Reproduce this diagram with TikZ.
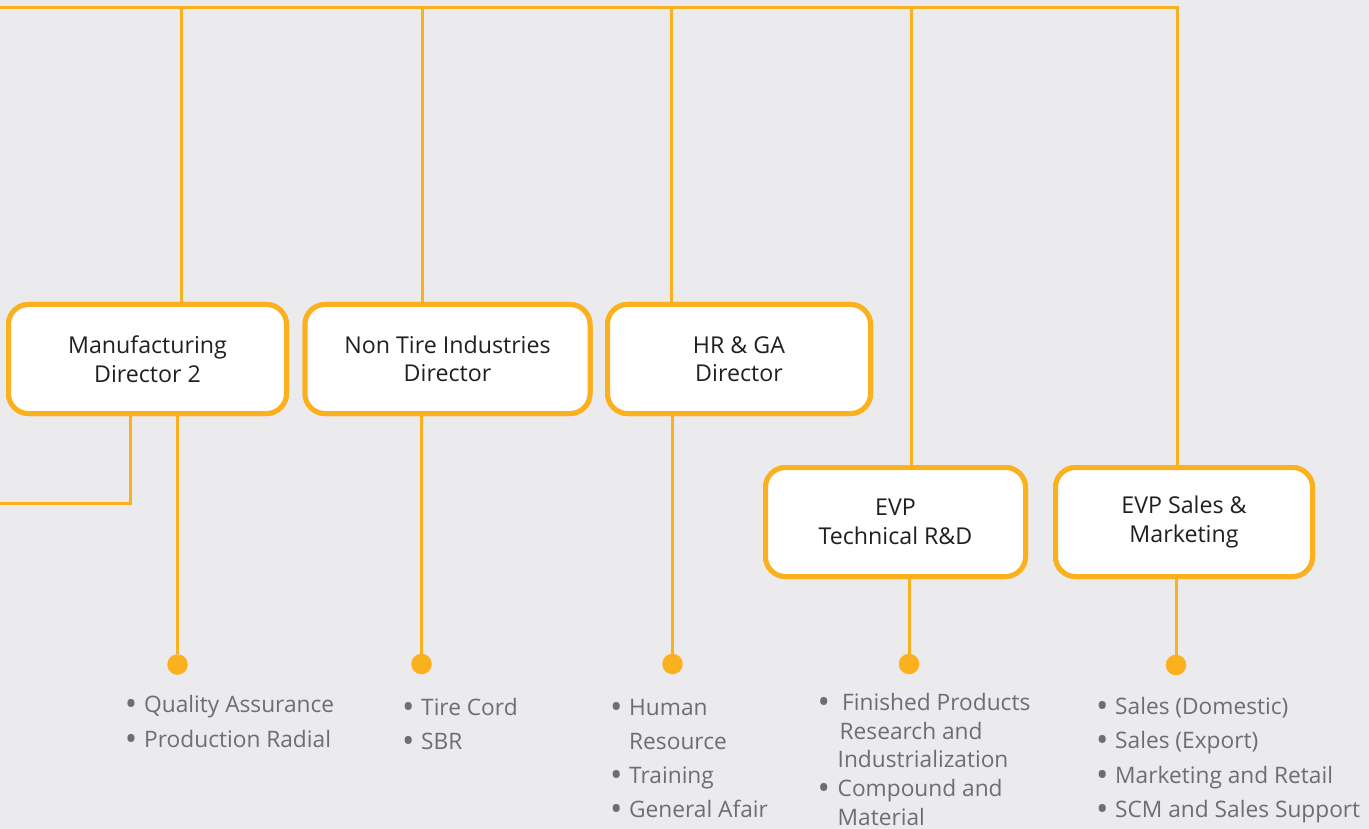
\documentclass[tikz,border=0pt]{standalone}
\usepackage{fontspec}
\setmainfont{Open Sans}
\definecolor{bg}{HTML}{EBEBED}
\definecolor{org}{HTML}{FBB01D}
\definecolor{dark}{HTML}{231F20}
\definecolor{gr}{HTML}{6D6E71}
\newcommand\bigbul{\makebox[0pt][c]{\raisebox{-3.2pt}{\fontsize{33}{33}\selectfont\textbullet}}}
\newcommand\bul{\makebox[13pt][l]{\bigbul}}
\newcommand\bulw{\makebox[14pt][l]{\bigbul}}
\begin{document}
\begin{tikzpicture}[x=1pt,y=-1pt,
  box/.style={draw=org, line width=5pt, fill=white, rounded corners=20pt, align=center, text=dark,
    font=\fontsize{23.2}{28.5}\selectfont, inner sep=0pt, minimum height=109pt},
  wire/.style={draw=org, line width=3pt},
  dot/.style={circle, fill=org, minimum size=20.5pt, inner sep=0pt},
  list/.style={anchor=base west, inner sep=0pt, text=gr, font=\fontsize{22.7}{34.5}\selectfont}]
\fill[bg] (0,0) rectangle (1369,829);
\useasboundingbox (0,0) rectangle (1369,829);

% boxes
\node[box, minimum width=278pt] (b1) at (147.5,359) {Manufacturing\\Director 2};
\node[box, minimum width=285pt] (b2) at (447.5,359) {Non Tire Industries\\Director};
\node[box, minimum width=263pt] (b3) at (739,359) {HR \& GA\\Director};
\node[box, minimum width=260pt] (b4) at (895.5,522) {EVP\\Technical R\&D};
\node[box, minimum width=257pt] (b5) at (1184,522) {EVP Sales \&\\Marketing};

% top bus
\coordinate (tl) at (0,8);
\coordinate (tr) at (1177,8);
\coordinate (t1) at (181,8);
\coordinate (t2) at (422,8);
\coordinate (t3) at (671,8);
\coordinate (t4) at (911,8);
\draw[wire] (tl) -- (tr) -- (tr |- b5.north);
\draw[wire] (t1) -- (t1 |- b1.north);
\draw[wire] (t2) -- (t2 |- b2.north);
\draw[wire] (t3) -- (t3 |- b3.north);
\draw[wire] (t4) -- (t4 |- b4.north);

% side branch of box 1
\coordinate (s1) at (130,0);
\coordinate (se) at (0,503);
\draw[wire] (s1 |- b1.south) |- (se);

% dots
\node[dot] (d1) at (177.5,664.5) {};
\node[dot] (d2) at (421.5,664) {};
\node[dot] (d3) at (672.5,664) {};
\node[dot] (d4) at (909,664) {};
\node[dot] (d5) at (1176,665) {};
\draw[wire] (d1 |- b1.south) -- (d1);
\draw[wire] (d2 |- b2.south) -- (d2);
\draw[wire] (d3 |- b3.south) -- (d3);
\draw[wire] (d4 |- b4.south) -- (d4);
\draw[wire] (d5 |- b5.south) -- (d5);
% redraw boxes over wire ends
\node[box, minimum width=278pt] at (b1) {Manufacturing\\Director 2};
\node[box, minimum width=285pt] at (b2) {Non Tire Industries\\Director};
\node[box, minimum width=263pt] at (b3) {HR \& GA\\Director};
\node[box, minimum width=260pt] at (b4) {EVP\\Technical R\&D};
\node[box, minimum width=257pt] at (b5) {EVP Sales \&\\Marketing};

% lists
\node[list] (L1) at (131,712.7) {\begin{tabular}[t]{@{}l@{}l@{}}
\bul & Quality Assurance\\
\bul & Production Radial\end{tabular}};
\node[list] (L2) at (408,715) {\begin{tabular}[t]{@{}l@{}l@{}}
\bul & Tire Cord\\
\bul & SBR\end{tabular}};
\node[list, font=\fontsize{22.7}{34}\selectfont] (L3) at (616,715) {\begin{tabular}[t]{@{}l@{}l@{}}
\bul & Human\\
 & Resource\\
\bul & Training\\
\bul & General Afair\end{tabular}};
\node[list, font=\fontsize{22.7}{28.6}\selectfont] (L4) at (823.5,710.7) {\begin{tabular}[t]{@{}l@{}l@{}}
\bulw & \hspace{4.5pt}Finished Products\\
 & \hspace{2pt}Research and\\
 & Industrialization\\
\bulw & Compound and\\
 & Material\end{tabular}};
\node[list] (L5) at (1102,714) {\begin{tabular}[t]{@{}l@{}l@{}}
\bul & Sales (Domestic)\\
\bul & Sales (Export)\\
\bul & Marketing and Retail\\
\bul & SCM and Sales Support\end{tabular}};
\end{tikzpicture}
\end{document}
